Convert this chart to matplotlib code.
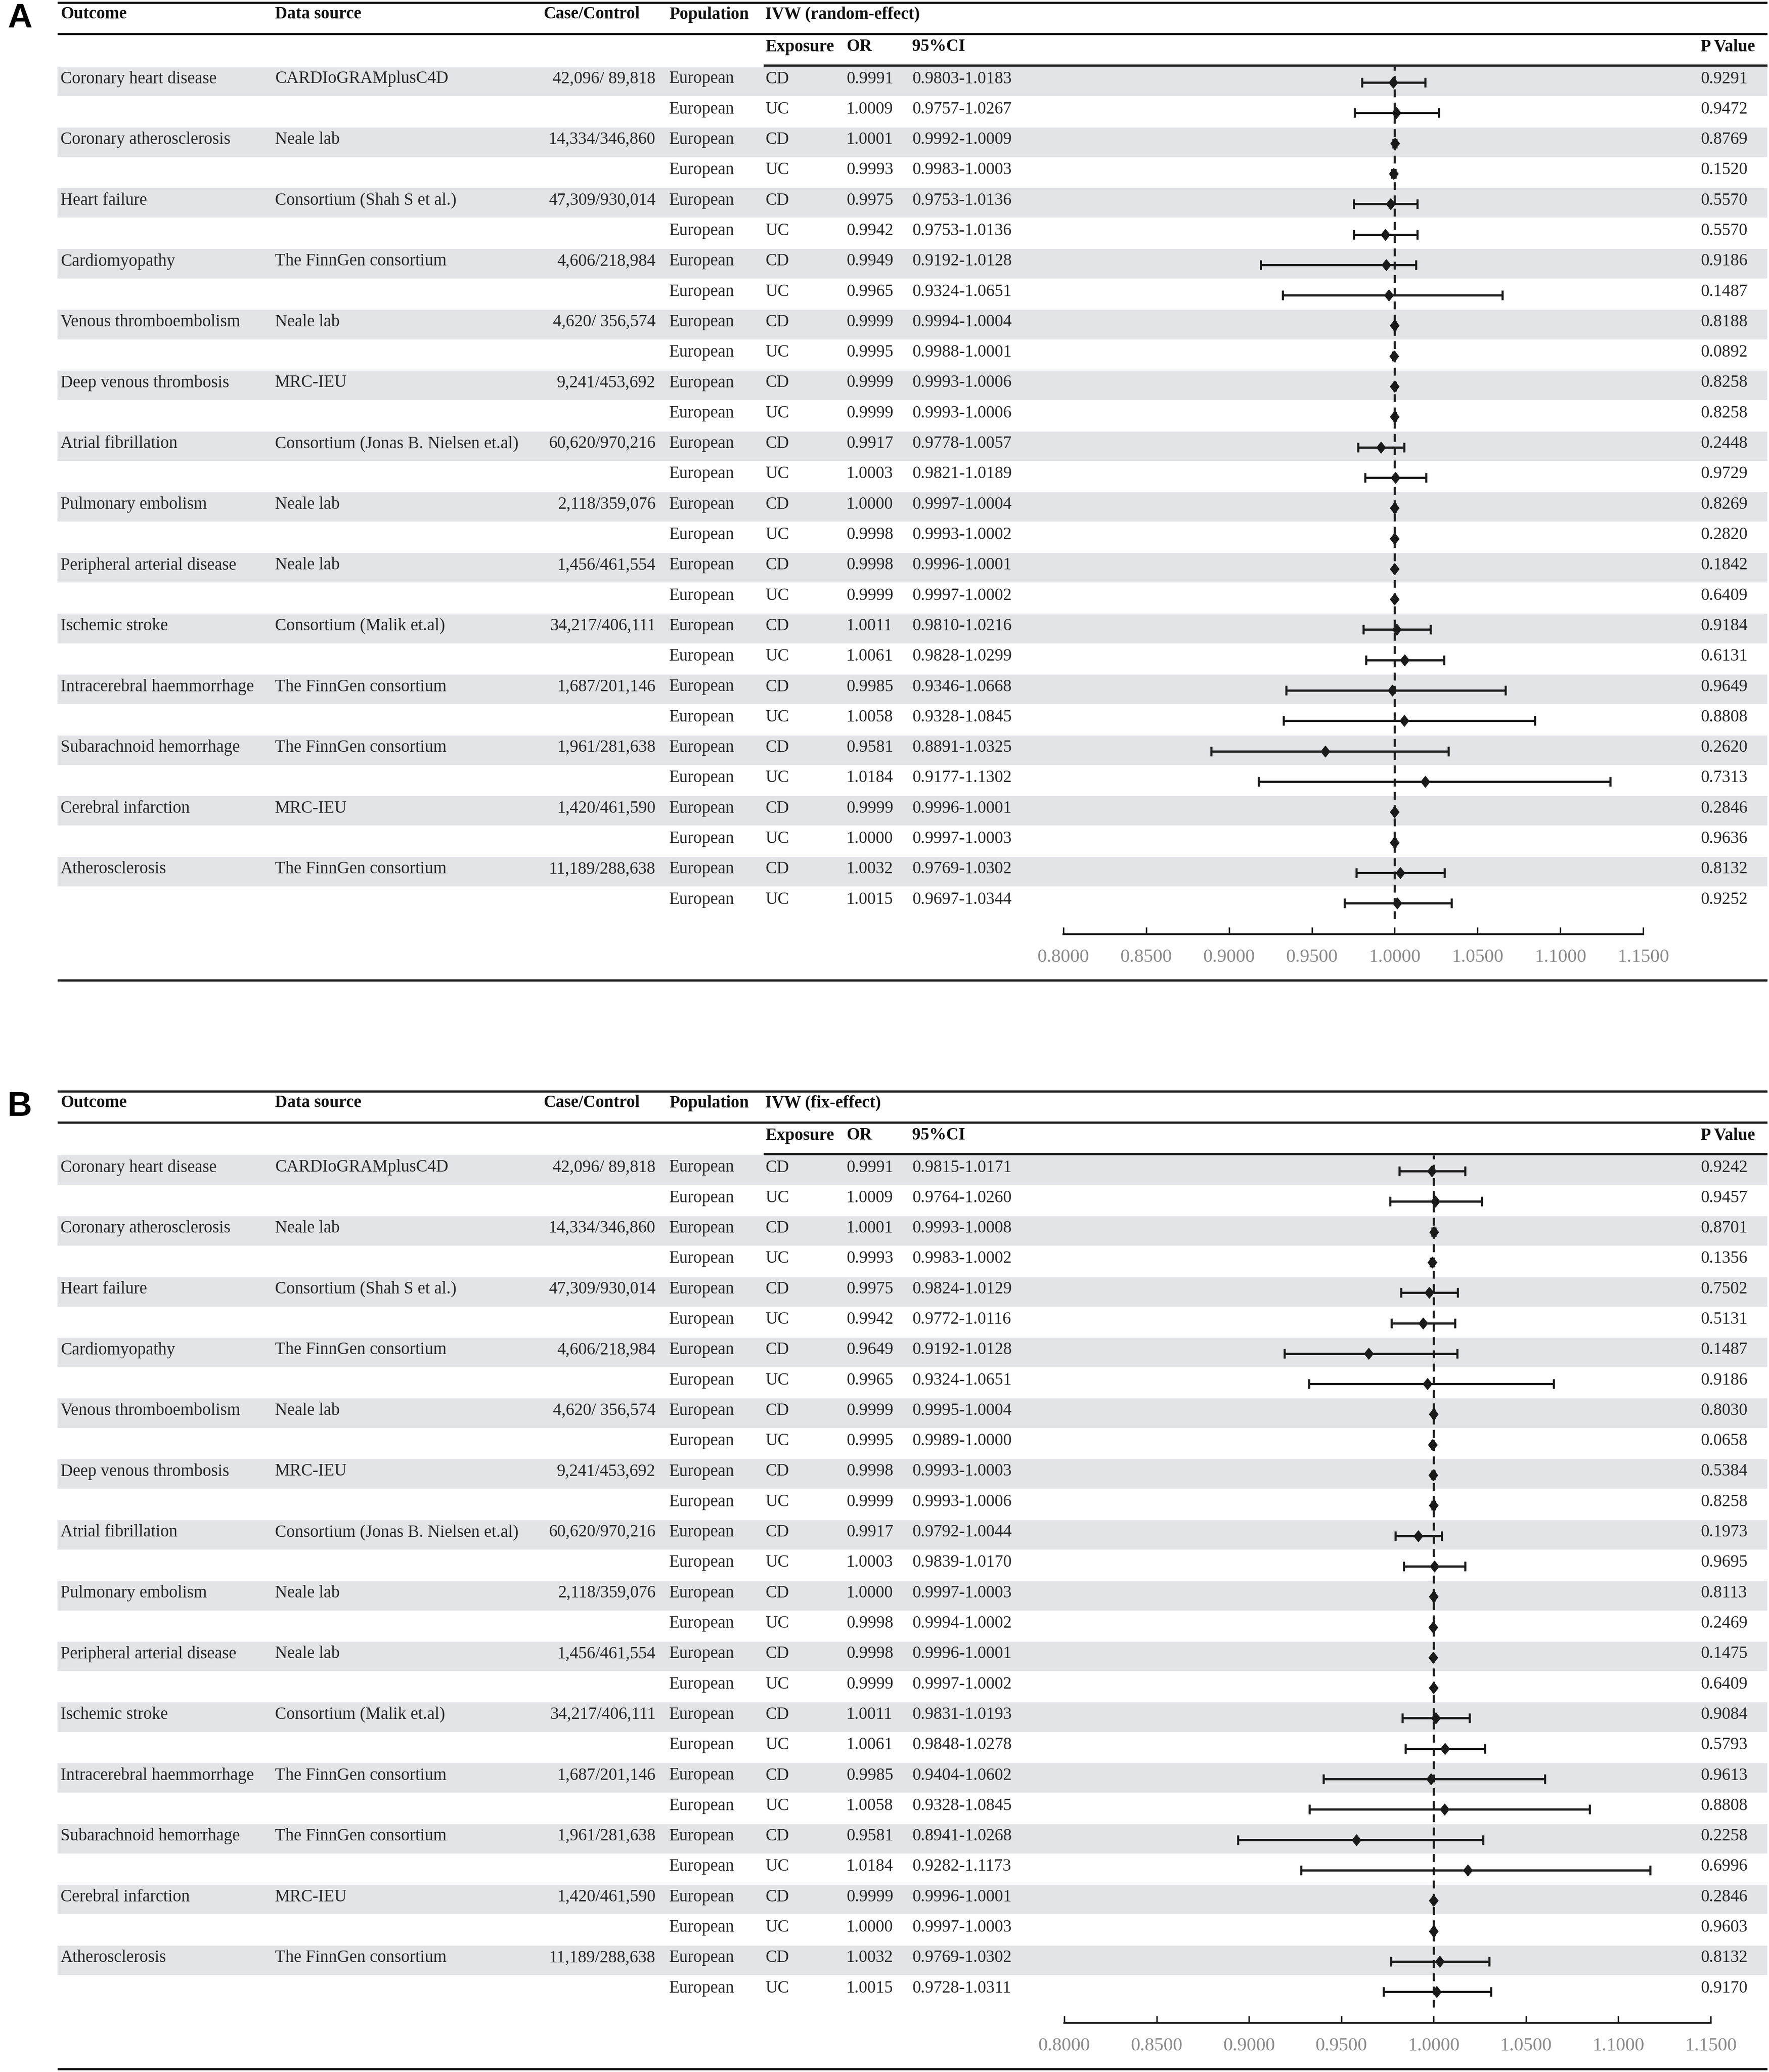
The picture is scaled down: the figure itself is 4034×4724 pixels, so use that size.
import numpy as np
import matplotlib.pyplot as plt

plt.rcParams['font.family'] = ['Liberation Serif', 'DejaVu Serif']

# ---- data ----
outcomes = ["Coronary heart disease", "Coronary atherosclerosis", "Heart failure",
            "Cardiomyopathy", "Venous thromboembolism", "Deep venous thrombosis",
            "Atrial fibrillation", "Pulmonary embolism", "Peripheral arterial disease",
            "Ischemic stroke", "Intracerebral haemmorrhage", "Subarachnoid hemorrhage",
            "Cerebral infarction", "Atherosclerosis"]
sources = ["CARDIoGRAMplusC4D", "Neale lab", "Consortium (Shah S et al.)",
           "The FinnGen consortium", "Neale lab", "MRC-IEU",
           "Consortium (Jonas B. Nielsen et.al)", "Neale lab", "Neale lab",
           "Consortium (Malik et.al)", "The FinnGen consortium", "The FinnGen consortium",
           "MRC-IEU", "The FinnGen consortium"]
cases = ["42,096/ 89,818", "14,334/346,860", "47,309/930,014", "4,606/218,984",
         "4,620/ 356,574", "9,241/453,692", "60,620/970,216", "2,118/359,076",
         "1,456/461,554", "34,217/406,111", "1,687/201,146", "1,961/281,638",
         "1,420/461,590", "11,189/288,638"]
exposures = ["CD", "UC"] * 14
population = "European"

or_a = [0.9991, 1.0009, 1.0001, 0.9993, 0.9975, 0.9942, 0.9949, 0.9965, 0.9999, 0.9995,
        0.9999, 0.9999, 0.9917, 1.0003, 1.0000, 0.9998, 0.9998, 0.9999, 1.0011, 1.0061,
        0.9985, 1.0058, 0.9581, 1.0184, 0.9999, 1.0000, 1.0032, 1.0015]
lo_a = [0.9803, 0.9757, 0.9992, 0.9983, 0.9753, 0.9753, 0.9192, 0.9324, 0.9994, 0.9988,
        0.9993, 0.9993, 0.9778, 0.9821, 0.9997, 0.9993, 0.9996, 0.9997, 0.9810, 0.9828,
        0.9346, 0.9328, 0.8891, 0.9177, 0.9996, 0.9997, 0.9769, 0.9697]
hi_a = [1.0183, 1.0267, 1.0009, 1.0003, 1.0136, 1.0136, 1.0128, 1.0651, 1.0004, 1.0001,
        1.0006, 1.0006, 1.0057, 1.0189, 1.0004, 1.0002, 1.0001, 1.0002, 1.0216, 1.0299,
        1.0668, 1.0845, 1.0325, 1.1302, 1.0001, 1.0003, 1.0302, 1.0344]
p_a = [0.9291, 0.9472, 0.8769, 0.1520, 0.5570, 0.5570, 0.9186, 0.1487, 0.8188, 0.0892,
       0.8258, 0.8258, 0.2448, 0.9729, 0.8269, 0.2820, 0.1842, 0.6409, 0.9184, 0.6131,
       0.9649, 0.8808, 0.2620, 0.7313, 0.2846, 0.9636, 0.8132, 0.9252]

or_b = [0.9991, 1.0009, 1.0001, 0.9993, 0.9975, 0.9942, 0.9649, 0.9965, 0.9999, 0.9995,
        0.9998, 0.9999, 0.9917, 1.0003, 1.0000, 0.9998, 0.9998, 0.9999, 1.0011, 1.0061,
        0.9985, 1.0058, 0.9581, 1.0184, 0.9999, 1.0000, 1.0032, 1.0015]
lo_b = [0.9815, 0.9764, 0.9993, 0.9983, 0.9824, 0.9772, 0.9192, 0.9324, 0.9995, 0.9989,
        0.9993, 0.9993, 0.9792, 0.9839, 0.9997, 0.9994, 0.9996, 0.9997, 0.9831, 0.9848,
        0.9404, 0.9328, 0.8941, 0.9282, 0.9996, 0.9997, 0.9769, 0.9728]
hi_b = [1.0171, 1.0260, 1.0008, 1.0002, 1.0129, 1.0116, 1.0128, 1.0651, 1.0004, 1.0000,
        1.0003, 1.0006, 1.0044, 1.0170, 1.0003, 1.0002, 1.0001, 1.0002, 1.0193, 1.0278,
        1.0602, 1.0845, 1.0268, 1.1173, 1.0001, 1.0003, 1.0302, 1.0311]
p_b = [0.9242, 0.9457, 0.8701, 0.1356, 0.7502, 0.5131, 0.1487, 0.9186, 0.8030, 0.0658,
       0.5384, 0.8258, 0.1973, 0.9695, 0.8113, 0.2469, 0.1475, 0.6409, 0.9084, 0.5793,
       0.9613, 0.8808, 0.2258, 0.6996, 0.2846, 0.9603, 0.8132, 0.9170]

xticks = [0.80, 0.85, 0.90, 0.95, 1.00, 1.05, 1.10, 1.15]

# ---- layout (pixels) ----
W, H = 4034, 4724
PITCH = 69.3
LEFT, RIGHT = 131, 4030
FS = 28
TXT = '#262626'
INK = '#1a1a1a'
SHADE = '#e3e4e8'

fig = plt.figure(figsize=(W / 100, H / 100), dpi=100)
base = fig.add_axes([0, 0, 1, 1])
base.set_xlim(0, W)
base.set_ylim(H, 0)
base.axis('off')


def px_axes(x0, y0, x1, y1):
    return fig.add_axes([x0 / W, 1 - y1 / H, (x1 - x0) / W, (y1 - y0) / H])


diamond = [(0, 1), (0.8, 0), (0, -1), (-0.8, 0), (0, 1)]


def panel(dy, letter, title, ors, los, his, ps, x0, x1):
    n = len(ors)
    rows = np.arange(n)
    row_top = 151 + dy + rows * PITCH
    text_y = row_top + 29

    # shading of CD rows
    shaded = rows[::2]
    base.barh(row_top[shaded] + PITCH / 2, RIGHT - LEFT, left=LEFT, height=PITCH - 2,
              color=SHADE, zorder=0)

    # rules
    base.hlines([6 + dy, 77 + dy], LEFT, RIGHT, color=INK, lw=3.6)
    base.hlines(149 + dy, 1741, RIGHT, color=INK, lw=3.6)
    base.hlines(2235 + dy, LEFT, RIGHT, color=INK, lw=3.6)

    base.text(45, 42 + dy, letter, fontsize=56, fontweight='bold',
              family=['Liberation Sans', 'DejaVu Sans'], ha='center', va='center')

    hdr = dict(fontsize=FS, fontweight='bold', color='#111111', va='center')
    base.text(138, 33 + dy, "Outcome", **hdr)
    base.text(627, 33 + dy, "Data source", **hdr)
    base.text(1239, 33 + dy, "Case/Control", **hdr)
    base.text(1526, 33 + dy, "Population", **hdr)
    base.text(1745, 33 + dy, title, **hdr)
    base.text(1745, 107 + dy, "Exposure", **hdr)
    base.text(1930, 107 + dy, "OR", **hdr)
    base.text(2080, 107 + dy, "95%CI", **hdr)
    base.text(3878, 107 + dy, "P Value", **hdr)

    body = dict(fontsize=FS, color=TXT, va='center')
    for k in range(len(outcomes)):
        y = text_y[2 * k]
        base.text(138, y, outcomes[k], **body)
        base.text(627, y, sources[k], **body)
        base.text(1495, y, cases[k], ha='right', **body)
    for i in rows:
        y = text_y[i]
        base.text(1526, y, population, **body)
        base.text(1745, y, exposures[i], **body)
        base.text(1930, y, f"{ors[i]:.4f}", **body)
        base.text(2080, y, f"{los[i]:.4f}-{his[i]:.4f}", **body)
        base.text(3878, y, f"{ps[i]:.4f}", **body)

    # forest plot
    top, bot = 152 + dy, 2095 + dy
    fa = px_axes(x0, top, x1, bot)
    mark_off = 36.0
    fa.set_ylim((bot - top - mark_off) / PITCH, -mark_off / PITCH)
    fa.set_xlim(xticks[0], xticks[-1])
    fa.axis('off')
    fa.axvline(1.0, color=INK, lw=3.4, ls=(0, (3.8, 2.6)), zorder=1)
    ors_ = np.array(ors)
    fa.errorbar(ors_, rows, xerr=[ors_ - np.array(los), np.array(his) - ors_],
                fmt='none', ecolor=INK, elinewidth=3.6, capsize=7.9, capthick=3.4,
                zorder=2, clip_on=False)
    fa.plot(ors_, rows, ls='none', marker=diamond, ms=18.5, color=INK, zorder=3,
            clip_on=False)

    # x axis
    xa = px_axes(x0, 2114 + dy, x1, 2130 + dy)
    xa.set_xlim(xticks[0], xticks[-1])
    xa.set_ylim(0, 1)
    for s in ('top', 'left', 'right'):
        xa.spines[s].set_visible(False)
    xa.spines['bottom'].set_linewidth(3.2)
    xa.spines['bottom'].set_color(INK)
    xa.set_yticks([])
    xa.set_xticks(xticks)
    xa.set_xticklabels([f"{t:.4f}" for t in xticks])
    xa.tick_params(axis='x', direction='in', length=11.5, width=2.4, color=INK,
                   labelsize=31, labelcolor='#8a8a8a', pad=24)
    xa.patch.set_visible(False)


panel(0, "A", "IVW (random-effect)", or_a, lo_a, hi_a, p_a, 2425, 3747)
panel(2482, "B", "IVW (fix-effect)", or_b, lo_b, hi_b, p_b, 2427, 3901)

fig.savefig('out.png', dpi=100)
